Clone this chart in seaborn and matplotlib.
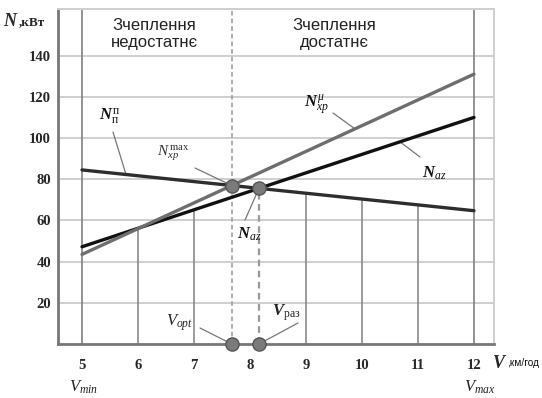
import numpy as np
import pandas as pd
import matplotlib
matplotlib.use("Agg")
import matplotlib.pyplot as plt
import seaborn as sns

# ---- data ----
speed = [5, 12]                 # V, km/h (line end points)
n_ag = [47.2, 110.0]            # N_az  (black)
n_xp = [43.5, 131.0]            # N_xp^mu (grey)
n_p = [84.5, 64.7]              # N_p^p (dark)
x_ticks = [5, 6, 7, 8, 9, 10, 11, 12]
y_ticks = [20, 40, 60, 80, 100, 120, 140]
grid_x = [6, 7, 9, 10, 11]

sns.set_theme(style="white")
plt.rcParams['font.family'] = ['Liberation Serif', 'DejaVu Sans']
plt.rcParams['mathtext.fontset'] = 'custom'
plt.rcParams['mathtext.rm'] = 'Liberation Serif'
plt.rcParams['mathtext.it'] = 'Liberation Serif:italic'
plt.rcParams['mathtext.bf'] = 'Liberation Serif:bold:italic'

fig = plt.figure(figsize=(5.42, 3.98), dpi=100)
ax = fig.add_axes([58/542, 54/398, (494-58)/542, (344-9)/398])

XMIN, XMAX = 5 - 24/56, 12 + 20/56
YMIN, YMAX = 0, 335/2.06
ax.set_xlim(XMIN, XMAX)
ax.set_ylim(YMIN, YMAX)

def line_fn(vals):
    k = (vals[1]-vals[0])/(speed[1]-speed[0])
    return k, vals[0]-k*speed[0]

def cross(a, b):
    k1, b1 = line_fn(a); k2, b2 = line_fn(b)
    x = (b2-b1)/(k1-k2)
    return x, k1*x+b1

def val(vals, x):
    k, b = line_fn(vals)
    return k*x+b

v_opt, n_opt = cross(n_xp, n_p)
v_raz, n_raz = cross(n_ag, n_p)

# horizontal grid
for y in y_ticks:
    ax.axhline(y, color='#cfcfcf', lw=1.4, zorder=0)
# vertical full-height lines at 5 and 12
for x in (5, 12):
    ax.axvline(x, color='#8a8a8a', lw=1.3, zorder=1)
# vertical grid lines up to the lowest curve
for x in grid_x:
    top = min(val(n_ag, x), val(n_xp, x), val(n_p, x))
    ax.plot([x, x], [0, top], color='#8a8a8a', lw=1.2, zorder=1)
# dashed verticals
ax.plot([v_opt, v_opt], [0, YMAX], color='#999999', lw=1.1, ls=(0, (3, 2)), zorder=1)
ax.plot([v_raz, v_raz], [0, n_raz], color='#999999', lw=1.6, ls=(0, (3, 2)), zorder=1)

df = pd.DataFrame({
    'V': speed*3,
    'N': n_ag + n_xp + n_p,
    'series': ['ag']*2 + ['xp']*2 + ['p']*2,
})
sns.lineplot(data=df, x='V', y='N', hue='series',
             palette={'ag': '#111111', 'xp': '#6e6e6e', 'p': '#2e2e2e'},
             linewidth=2.4, legend=False, ax=ax, zorder=3)

pts = pd.DataFrame({'V': [v_opt, v_raz, v_opt, v_raz],
                    'N': [n_opt, n_raz, 0, 0]})
sns.scatterplot(data=pts, x='V', y='N', s=90, color='#7a7a7a',
                edgecolor='#555555', linewidth=1.0, ax=ax, zorder=5,
                clip_on=False)

# spines
for s in ('top', 'right'):
    ax.spines[s].set_color('#cfcfcf'); ax.spines[s].set_linewidth(1.4)
for s in ('left', 'bottom'):
    ax.spines[s].set_color('#777777'); ax.spines[s].set_linewidth(2.0)

ax.set_xticks(x_ticks)
ax.set_xticklabels([str(t) for t in x_ticks], fontsize=10.5, fontweight='bold')
ax.set_yticks(y_ticks)
ax.set_yticklabels([str(t) for t in y_ticks], fontsize=10.5, fontweight='bold')
ax.tick_params(axis='x', length=0, pad=11)
ax.tick_params(axis='y', length=0, pad=5)
ax.set_xlabel(''); ax.set_ylabel('')

def px(xp, yp):
    return 5 + (xp-82)/56, (344-yp)/2.06

# header texts
hfont = dict(family='Liberation Sans', fontsize=12, color='#222222',
             ha='center', va='center', linespacing=1.25)
ax.text(*px(154, 34), 'Зчеплення\nнедостатнє', **hfont)
ax.text(*px(334, 34), 'Зчеплення\nдостатнє', **hfont)

# curve labels
lab = dict(fontsize=12, color='#111111', ha='center', va='center')
ax.text(*px(110, 117), r'$\mathbf{N}_{\mathrm{п}}^{\,\mathrm{п}}$', **lab)
ax.plot([px(113, 132)[0], px(126, 0)[0]],
        [px(113, 132)[1], val(n_p, px(126, 0)[0])], color='#777777', lw=0.9, zorder=2)
ax.text(*px(173, 153), r'$N_{xp}^{\,\mathrm{max}}$', fontsize=11, color='#333333',
        ha='center', va='center')
ax.plot([px(195, 168)[0], v_opt], [px(195, 168)[1], n_opt], color='#777777', lw=0.9, zorder=2)
ax.text(*px(316, 105), r'$\mathbf{N}_{xp}^{\,\mu}$', **lab)
ax.plot([px(333, 113)[0], px(355, 0)[0]],
        [px(333, 113)[1], val(n_xp, px(355, 0)[0])], color='#777777', lw=0.9, zorder=2)
ax.text(*px(434, 173), r'$\mathbf{N}_{az}$', **lab)
ax.plot([px(400, 0)[0], px(420, 157)[0]],
        [val(n_ag, px(400, 0)[0]), px(420, 157)[1]], color='#777777', lw=0.9, zorder=2)
ax.text(*px(249, 234), r'$\mathbf{N}_{az}$', **lab)
ax.plot([px(245, 220)[0], v_raz], [px(245, 220)[1], n_raz], color='#777777', lw=0.9, zorder=2)
ax.text(*px(180, 323), r'$V_{opt}$', fontsize=12, color='#222222', ha='center', va='center')
ax.plot([px(200, 328)[0], v_opt], [px(200, 328)[1], 0], color='#777777', lw=0.9, zorder=2)
ax.text(*px(286, 313), r'$\mathbf{V}_{\mathrm{раз}}$', fontsize=12, color='#222222',
        ha='center', va='center')
ax.plot([v_raz, px(298, 323)[0]], [0, px(298, 323)[1]], color='#777777', lw=0.9, zorder=2)

# axis titles
fig.text(3/542, 1-22/398, r'$\mathbf{N}$', fontsize=13, ha='left', va='center')
fig.text(18.5/542, 1-22/398, ',кВт', fontsize=9.5, fontweight='bold', ha='left', va='center')
fig.text(492/542, 1-363/398, r'$\mathbf{V}$', fontsize=13, ha='left', va='center')
fig.text(507.5/542, 1-363/398, ',км/год', family='Liberation Sans', fontsize=7.3,
         ha='left', va='center', color='#111111')
fig.text(84/542, 1-387/398, r'$V_{min}$', fontsize=12, ha='center', va='center', color='#222222')
fig.text(480/542, 1-387/398, r'$V_{max}$', fontsize=12, ha='center', va='center', color='#222222')

fig.savefig('out.png', dpi=100)
